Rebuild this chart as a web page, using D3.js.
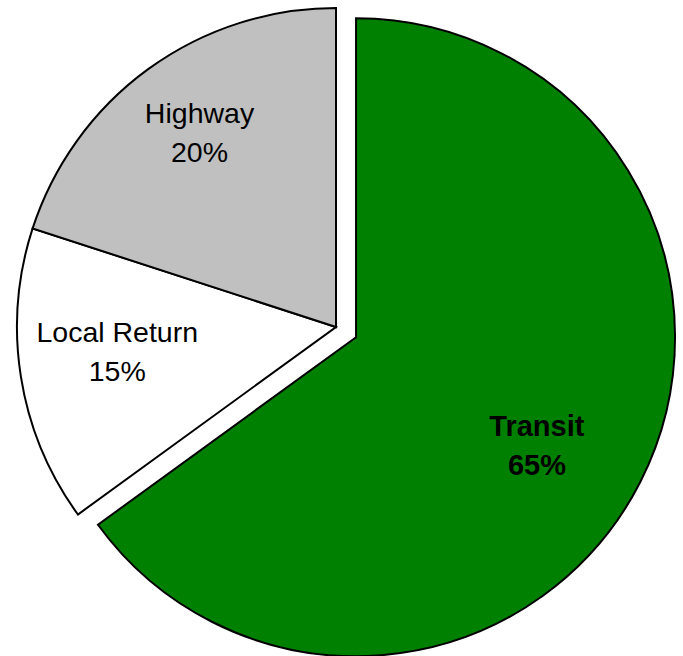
<!DOCTYPE html>
<html>
<head>
<meta charset="utf-8">
<script src="https://cdn.jsdelivr.net/npm/d3@7"></script>
<style>
  body { margin: 0; background: #fff; }
  svg text { font-family: Arial, "Liberation Sans", sans-serif; }
</style>
</head>
<body>
<div id="chart"></div>
<script>
var categories = ["Transit", "Local Return", "Highway"];
var values = [65, 15, 20];
var colors = ["#008000", "#ffffff", "#c0c0c0"];

var width = 683, height = 656,
    cx = 336, cy = 327,
    radius = 319,
    explode = 22.5;            // Transit slice is pulled out
// label placement: distance as fraction of radius, and angle tweak in degrees (Excel-ish positions)
var labelPos = {
  "Transit":      {r: 0.66, da: 3.8},
  "Local Return": {r: 0.69, da: 2.6},
  "Highway":      {r: 0.746, da: 1}
};

var data = categories.map(function(c, i) { return {name: c, value: values[i], color: colors[i]}; });

var svg = d3.select("#chart")
  .append("svg")
    .attr("width", width)
    .attr("height", height)
  .append("g")
    .attr("transform", "translate(" + cx + "," + cy + ")");

var pie = d3.pie()
    .sort(null)
    .value(function(d) { return d.value; });

var arc = d3.arc()
    .innerRadius(0)
    .outerRadius(radius);

var arcs = pie(data);

function shift(d) {
  if (d.data.name !== "Transit") return [0, 0];
  var a = (d.startAngle + d.endAngle) / 2;
  return [explode * Math.sin(a), -explode * Math.cos(a)];
}

var slices = svg.selectAll("g.slice")
  .data(arcs)
  .enter()
  .append("g")
    .attr("class", "slice")
    .attr("transform", function(d) { var s = shift(d); return "translate(" + s[0] + "," + s[1] + ")"; });

slices.append("path")
    .attr("d", arc)
    .attr("fill", function(d) { return d.data.color; })
    .attr("stroke", "#000")
    .attr("stroke-width", 2)
    .attr("stroke-linejoin", "miter");

var label = slices.append("text")
    .attr("text-anchor", "middle")
    .style("font-size", function(d) { return d.data.name === "Transit" ? "29px" : "28.5px"; })
    .style("font-weight", function(d) { return d.data.name === "Transit" ? "bold" : "normal"; })
    .attr("transform", function(d) {
      var p = labelPos[d.data.name];
      var a = (d.startAngle + d.endAngle) / 2 + p.da * Math.PI / 180;
      var r = radius * p.r;
      return "translate(" + (r * Math.sin(a)) + "," + (-r * Math.cos(a)) + ")";
    });

label.append("tspan")
    .attr("x", 0)
    .attr("y", -9.5)
    .text(function(d) { return d.data.name; });

label.append("tspan")
    .attr("x", 0)
    .attr("y", 29.5)
    .text(function(d) { return d.data.value + "%"; });
</script>
</body>
</html>
